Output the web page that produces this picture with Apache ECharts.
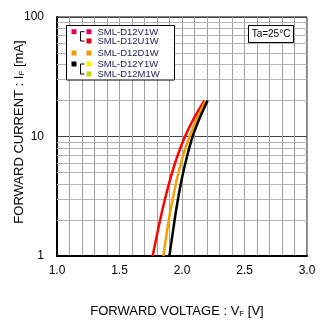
<!DOCTYPE html>
<html>
<head>
<meta charset="utf-8">
<script src="https://cdn.jsdelivr.net/npm/echarts@6/dist/echarts.min.js"></script>
<style>
  html, body { margin: 0; padding: 0; background: #fff; }
  #chart { width: 327px; height: 322px; }
</style>
</head>
<body>
<div id="chart"></div>
<script>
// Forward voltage (V) vs forward current (mA), Ta = 25 °C
const currents = [1, 2, 3, 4.6, 6.8, 10, 14.2, 20];
const vfRed    = [1.765, 1.825, 1.864, 1.911, 1.962, 2.024, 2.095, 2.179];  // SML-D12V1W / SML-D12U1W
const vfOrange = [1.851, 1.894, 1.926, 1.964, 2.006, 2.061, 2.121, 2.192];  // SML-D12D1W
const vfBlack  = [1.899, 1.941, 1.968, 2.002, 2.040, 2.085, 2.141, 2.205];  // SML-D12Y1W / SML-D12M1W

const xTicks = [1.0, 1.5, 2.0, 2.5, 3.0];
const yTicks = [1, 10, 100];
const yMinor = [2, 3, 4, 5, 6, 7, 8, 9, 20, 30, 40, 50, 60, 70, 80, 90];

const legendNames = ['SML-D12V1W', 'SML-D12U1W', 'SML-D12D1W', 'SML-D12Y1W', 'SML-D12M1W'];
const legendRight = ['#e0005e', '#e60012', '#f39800', '#fff100', '#c9d200'];

function pairs(vs) { return vs.map((v, i) => [v, currents[i]]); }

const chart = echarts.init(document.getElementById('chart'), null, { renderer: 'canvas' });
const FONT = 'Liberation Sans, Arial, sans-serif';

// legend box drawn as graphic shapes
const rowsY = [31.7, 41, 53, 64, 74];
const lg = [];
lg.push({ type: 'rect', shape: { x: 66.5, y: 25.5, width: 108, height: 54.5 },
  style: { fill: '#fff', stroke: '#000', lineWidth: 1 }, z: 10 });
const leftSq = [{ row: 0, c: '#e0005e' }, { row: 2, c: '#f39800' }, { row: 3, c: '#000' }];
leftSq.forEach(s => lg.push({ type: 'rect', shape: { x: 71.5, y: rowsY[s.row] - 2.5, width: 5, height: 5 },
  style: { fill: s.c }, z: 11 }));
legendNames.forEach((n, i) => {
  lg.push({ type: 'rect', shape: { x: 86.5, y: rowsY[i] - 2.5, width: 5, height: 5 }, style: { fill: legendRight[i] }, z: 11 });
  lg.push({ type: 'text', x: 97.5, y: rowsY[i] + 0.5, style: { text: n, fill: '#1e1e50', font: '9.5px ' + FONT,
    textVerticalAlign: 'middle', verticalAlign: 'middle' }, z: 11 });
});
[[0, 1], [3, 4]].forEach(([a, b]) => {
  lg.push({ type: 'polyline', shape: { points: [[84.5, rowsY[a]], [80.5, rowsY[a]], [80.5, rowsY[b]], [84.5, rowsY[b]]] },
    style: { stroke: '#000', lineWidth: 1, fill: null }, z: 11 });
});

chart.setOption({
  animation: false,
  grid: { left: 57, right: 20, top: 17, bottom: 66, show: true, borderColor: '#000', borderWidth: 1 },
  xAxis: {
    type: 'value', min: 1, max: 3, interval: 0.1,
    axisLine: { show: true, lineStyle: { color: '#000', width: 2 } },
    axisTick: { show: false },
    axisLabel: {
      margin: 9, color: '#000', fontSize: 12, fontFamily: FONT,
      formatter: v => xTicks.some(t => Math.abs(t - v) < 1e-6) ? v.toFixed(1) : ''
    },
    splitLine: { show: true, lineStyle: { color: '#a0a0a0', width: 1 } }
  },
  yAxis: {
    type: 'log', logBase: 10, min: 1, max: 100,
    axisLine: { show: true, lineStyle: { color: '#000', width: 2 } },
    axisTick: { show: false },
    axisLabel: { margin: 13, color: '#000', fontSize: 12, fontFamily: FONT,
      formatter: v => yTicks.includes(Math.round(v)) ? String(Math.round(v)) : '' },
    splitLine: { show: true, lineStyle: { color: '#444', width: 1 } }
  },
  graphic: [
    ...lg,
    { type: 'rect', shape: { x: 248.5, y: 25.5, width: 45, height: 17 },
      style: { fill: '#fff', stroke: '#000', lineWidth: 1 }, z: 10 },
    { type: 'text', x: 271, y: 34.5, style: { text: 'Ta=25°C', fill: '#000', font: '10px ' + FONT,
      textAlign: 'center', align: 'center', textVerticalAlign: 'middle', verticalAlign: 'middle' }, z: 11 },
    { type: 'text', x: 177, y: 311, style: {
      text: '{a|FORWARD VOLTAGE : V}{s|F}{a| [V]}', align: 'center', textAlign: 'center',
      verticalAlign: 'middle', textVerticalAlign: 'middle',
      rich: { a: { fontSize: 13, fontFamily: FONT, fill: '#000', color: '#000' },
              s: { fontSize: 8, fontFamily: FONT, fill: '#000', color: '#000', padding: [6, 0, 0, 0] } } } },
    { type: 'text', x: 19, y: 132, rotation: Math.PI / 2, style: {
      text: '{a|FORWARD CURRENT : I}{s|F}{a| [mA]}', align: 'center', textAlign: 'center',
      verticalAlign: 'middle', textVerticalAlign: 'middle',
      rich: { a: { fontSize: 13, fontFamily: FONT, fill: '#000', color: '#000' },
              s: { fontSize: 8, fontFamily: FONT, fill: '#000', color: '#000', padding: [6, 0, 0, 0] } } } }
  ],
  series: [
    {
      type: 'line', data: [], silent: true,
      markLine: { silent: true, symbol: 'none', label: { show: false },
        lineStyle: { color: '#b4b4b4', width: 1, type: 'solid' },
        data: yMinor.map(v => ({ yAxis: v })) }
    },
    { name: 'red', type: 'line', data: pairs(vfRed), smooth: 0.3, showSymbol: false,
      lineStyle: { color: '#ff0000', width: 2.5, join: 'round' }, z: 5 },
    { name: 'orange', type: 'line', data: pairs(vfOrange), smooth: 0.3, showSymbol: false,
      lineStyle: { color: '#f5a000', width: 2.5, join: 'round' }, z: 5 },
    { name: 'black', type: 'line', data: pairs(vfBlack), smooth: 0.3, showSymbol: false,
      lineStyle: { color: '#000', width: 2.5, join: 'round' }, z: 6 }
  ]
});
</script>
</body>
</html>
